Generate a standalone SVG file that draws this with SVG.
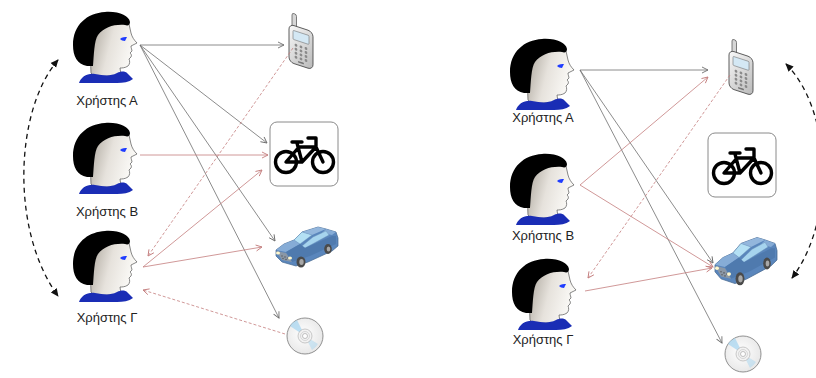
<svg xmlns="http://www.w3.org/2000/svg" xmlns:xlink="http://www.w3.org/1999/xlink" width="816" height="378" viewBox="0 0 816 378">
  <style>
    .lbl { font-family: "Liberation Sans", Arial, sans-serif; font-size: 13px; fill: #222; text-anchor: middle; }
    .g { fill: none; stroke: #6e6e6e; stroke-width: 0.8; marker-end: url(#ag); }
    .r { fill: none; stroke: #c47e7e; stroke-width: 0.8; marker-end: url(#ar); }
    .rd { fill: none; stroke: #c47e7e; stroke-width: 0.8; stroke-dasharray: 3 2; marker-end: url(#ar); }
    .arc { fill: none; stroke: #111; stroke-width: 1.3; stroke-dasharray: 5 4; marker-start: url(#ak); marker-end: url(#ak); }
    .box { fill: #fff; stroke: #8a8a8a; stroke-width: 1; }
    .bk { fill: none; stroke: #000; stroke-width: 3.4; stroke-linecap: round; stroke-linejoin: round; }
  </style>
  <defs>
    <linearGradient id="skin" x1="0" y1="0" x2="1" y2="0.3">
      <stop offset="0" stop-color="#aaa49a"/>
      <stop offset="0.5" stop-color="#e6e2dc"/>
      <stop offset="1" stop-color="#fbfaf7"/>
    </linearGradient>
    <linearGradient id="silver" x1="0" y1="0" x2="1" y2="1">
      <stop offset="0" stop-color="#fafafa"/>
      <stop offset="1" stop-color="#b8b8b8"/>
    </linearGradient>
    <radialGradient id="disc" cx="0.45" cy="0.45" r="0.6">
      <stop offset="0" stop-color="#ffffff"/>
      <stop offset="1" stop-color="#e6e6e6"/>
    </radialGradient>
    <marker id="ag" viewBox="0 0 8 8" refX="7" refY="4" markerWidth="8" markerHeight="8" markerUnits="userSpaceOnUse" orient="auto">
      <path d="M1,1 L7,4 L1,7" fill="none" stroke="#6e6e6e" stroke-width="0.9"/>
    </marker>
    <marker id="ar" viewBox="0 0 8 8" refX="7" refY="4" markerWidth="8" markerHeight="8" markerUnits="userSpaceOnUse" orient="auto">
      <path d="M1,1 L7,4 L1,7" fill="none" stroke="#c47e7e" stroke-width="0.9"/>
    </marker>
    <marker id="ak" viewBox="0 0 10 10" refX="8" refY="5" markerWidth="9" markerHeight="9" markerUnits="userSpaceOnUse" orient="auto-start-reverse">
      <path d="M0,1 L9,5 L0,9 Z" fill="#111"/>
    </marker>

    <!-- person head in profile, facing right; nose tip at (64,32) -->
    <g id="head">
      <path d="M18,62 C17,44 18,26 28,18 C36,12 48,10 56,13 L58,22 C59,26 61,29 64,32 L58,35 C58,37 59,39 59,40 L57,42 C58,43 59,44 58,46 L56,48 C57,50 57,53 55,55 C52,57 49,57 47,57 L48,64 L22,66 Z" fill="url(#skin)" stroke="#555" stroke-width="0.7"/>
      <path d="M14,55 C4,53 0,45 0,34 C0,14 14,2 32,1 C46,0 56,5 57,11 C57,14 55,15 52,14 C42,13 31,16 25,24 C21,30 21,44 20,55 Z" fill="#000"/>
      <path d="M6,72 C8,66 14,62 22,63 C30,64 36,66 44,62 C48,60 52,60 54,62 C56,64 58,66 60,68 C56,71 50,72 44,72 Z" fill="#1a2db5"/>
      <path d="M47,28 C49,26 52,26 54,26 L52,30 C50,30 48,29 47,28 Z" fill="#1f3cff"/>
    </g>

    <!-- mobile phone -->
    <g id="phone">
      <g transform="skewY(18)">
        <rect x="3" y="-12" width="4.5" height="15" rx="2" fill="#d6d6d6" stroke="#555" stroke-width="0.7"/>
        <rect x="0" y="0" width="24" height="38" rx="5" fill="url(#silver)" stroke="#444" stroke-width="0.8"/>
        <rect x="4" y="5" width="16" height="9" rx="1" fill="#d4e8f4" stroke="#666" stroke-width="0.5"/>
        <g fill="#8a8a8a">
          <circle cx="7" cy="19" r="1.4"/><circle cx="12" cy="19" r="1.4"/><circle cx="17" cy="19" r="1.4"/>
          <circle cx="7" cy="23" r="1.4"/><circle cx="12" cy="23" r="1.4"/><circle cx="17" cy="23" r="1.4"/>
          <circle cx="7" cy="27" r="1.4"/><circle cx="12" cy="27" r="1.4"/><circle cx="17" cy="27" r="1.4"/>
          <circle cx="7" cy="31" r="1.4"/><circle cx="12" cy="31" r="1.4"/><circle cx="17" cy="31" r="1.4"/>
        </g>
        <rect x="9" y="34" width="6" height="1.6" rx="0.8" fill="#777"/>
      </g>
    </g>

    <!-- bicycle sign -->
    <g id="bike">
      <rect class="box" x="0" y="0" width="68" height="64" rx="7"/>
      <circle class="bk" cx="16" cy="40" r="10.5"/>
      <circle class="bk" cx="53" cy="40" r="10.5"/>
      <path class="bk" d="M16,40 L32,40 L46,25 L29,25 Z M32,40 L27,21 M22,20 L32,20 M38,16 L46,16 L46,25 L53,40"/>
    </g>

    <!-- car -->
    <g id="car">
      <path d="M2,26 L10,20 L20,16 L28,8 L44,3 L52,5 L62,8 L64,14 L64,22 L58,27 L34,38 L22,42 L8,38 L2,32 Z" fill="#5a86bc" stroke="#46688f" stroke-width="0.7"/>
      <path d="M2,26 L10,20 L20,16 L26,20 L12,28 Z" fill="#86acd6"/>
      <path d="M28,8 L44,3 L52,5 L38,11 Z" fill="#93b6dc"/>
      <path d="M52,5 L62,8 L58,11 L48,9 Z" fill="#86acd6"/>
      <path d="M20,16 L28,8 L38,11 L26,20 Z" fill="#b4e0f4" stroke="#6a8fb8" stroke-width="0.4"/>
      <path d="M28,22 L39,13 L52,7 L55,11 L44,17 L31,24 Z" fill="#a6d4ee" stroke="#6a8fb8" stroke-width="0.4"/>
      <path d="M12,28 L26,20 L31,24 L58,12 L62,12 L62,20 L36,32 L18,38 Z" fill="#4f7aae"/>
      <path d="M2,27 L12,29 L18,38 L8,36 Z" fill="#8a97a6"/>
      <g fill="#555"><circle cx="8" cy="32" r="0.7"/><circle cx="11" cy="33" r="0.7"/><circle cx="14" cy="34" r="0.7"/><circle cx="9" cy="34.5" r="0.7"/><circle cx="12" cy="35.5" r="0.7"/></g>
      <ellipse cx="4" cy="29" rx="2" ry="1.5" fill="#fff7cc"/>
      <ellipse cx="16" cy="34" rx="2" ry="1.5" fill="#fff7cc"/>
      <ellipse cx="27" cy="38" rx="4.5" ry="5.5" fill="#4a4a4a"/>
      <ellipse cx="27.5" cy="38" rx="2.2" ry="3" fill="#a8a8a8"/>
      <ellipse cx="54" cy="25" rx="3.8" ry="5" fill="#4a4a4a"/>
      <ellipse cx="54.5" cy="25" rx="1.8" ry="2.6" fill="#a8a8a8"/>
    </g>

    <!-- compact disc -->
    <g id="cd">
      <circle cx="0" cy="0" r="18" fill="url(#disc)" stroke="#777" stroke-width="0.8"/>
      <path d="M0,0 L-15,-10 A18,18 0 0 1 -8,-16 Z" fill="#a8d6f0" opacity="0.75"/>
      <path d="M0,0 L13,8 A18,18 0 0 1 7,14 Z" fill="#a8d6f0" opacity="0.5"/>
      <circle cx="0" cy="0" r="7" fill="#f2f2f2" stroke="#aaa" stroke-width="0.6"/>
      <circle cx="0" cy="0" r="4.5" fill="none" stroke="#bbb" stroke-width="0.5"/>
      <circle cx="0" cy="0" r="2.5" fill="#fff" stroke="#999" stroke-width="0.6"/>
    </g>
  </defs>

  <rect width="816" height="378" fill="#fff"/>

  <!-- left scenario -->
  <g id="left-userA"><use xlink:href="#head" transform="translate(73,11)"/><text class="lbl" x="107" y="105">Χρήστης Α</text></g>
  <g id="left-userB"><use xlink:href="#head" transform="translate(73,122)"/><text class="lbl" x="107" y="216">Χρήστης Β</text></g>
  <g id="left-userC"><use xlink:href="#head" transform="translate(73,230)"/><text class="lbl" x="107" y="322">Χρήστης Γ</text></g>
  <g id="left-phone"><use xlink:href="#phone" transform="translate(289,24)"/></g>
  <g id="left-bike"><use xlink:href="#bike" transform="translate(270,122)"/></g>
  <g id="left-car"><use xlink:href="#car" transform="translate(274,224)"/></g>
  <g id="left-cd"><use xlink:href="#cd" transform="translate(305,336)"/></g>

  <!-- right scenario -->
  <g id="right-userA"><use xlink:href="#head" transform="translate(510,38)"/><text class="lbl" x="543" y="122">Χρήστης Α</text></g>
  <g id="right-userB"><use xlink:href="#head" transform="translate(510,153)"/><text class="lbl" x="543" y="240">Χρήστης Β</text></g>
  <g id="right-userC"><use xlink:href="#head" transform="translate(512,258)"/><text class="lbl" x="543" y="344">Χρήστης Γ</text></g>
  <g id="right-phone"><use xlink:href="#phone" transform="translate(729,50)"/></g>
  <g id="right-bike"><use xlink:href="#bike" transform="translate(708,133)"/></g>
  <g id="right-car"><use xlink:href="#car" transform="translate(713,234) scale(1,1.18)"/></g>
  <g id="right-cd"><use xlink:href="#cd" transform="translate(743,354)"/></g>

  <g id="connectors">
    <!-- left: user A -->
    <path class="g" d="M140,45 L284,45"/>
    <path class="g" d="M140,45 L267,143"/>
    <path class="g" d="M140,45 L275,241"/>
    <path class="g" d="M140,45 L279,318"/>
    <!-- left: users B and Γ -->
    <path class="r" d="M140,155 L268,155"/>
    <path class="r" d="M143,267 L262,170"/>
    <path class="r" d="M143,267 L262,247"/>
    <path class="rd" d="M293,48 L148,256"/>
    <path class="rd" d="M285,334 L143,290"/>
    <path class="arc" d="M58,60 C15,110 10,230 58,296"/>

    <!-- right: user A -->
    <path class="g" d="M580,70 L708,70"/>
    <path class="g" d="M580,70 L713,263"/>
    <path class="g" d="M580,70 L722,343"/>
    <!-- right: users B and Γ -->
    <path class="r" d="M580,185 L708,77"/>
    <path class="r" d="M580,185 L713,267"/>
    <path class="rd" d="M730,75 L588,278"/>
    <path class="r" d="M585,291 L712,268"/>
    <path class="arc" d="M786,64 C832,110 836,220 792,278"/>
  </g>
</svg>
